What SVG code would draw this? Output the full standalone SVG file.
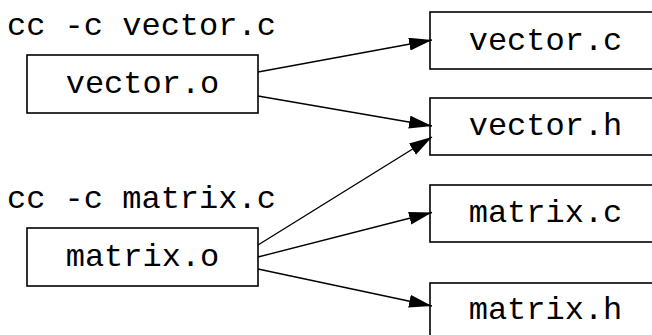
<svg xmlns="http://www.w3.org/2000/svg" width="652" height="335" viewBox="0 0 652 335">
<style>
.box{fill:#fff;stroke:#000;stroke-width:1.6}
.t{font-family:"Liberation Mono","Courier New",monospace;font-size:32px;fill:#000}
.m{text-anchor:middle}
.e{stroke:#000;stroke-width:1.4;fill:none;marker-end:url(#ah)}
</style>
<defs>
<marker id="ah" markerUnits="userSpaceOnUse" markerWidth="24" markerHeight="14" refX="23" refY="6.5" orient="auto">
<path d="M0,0 L23,6.5 L0,13 Z" fill="#000"/>
</marker>
</defs>
<rect width="652" height="335" fill="#fff"/>
<g id="label-vector"><text class="t" x="7" y="35">cc -c vector.c</text></g>
<g id="label-matrix"><text class="t" x="7" y="207.5">cc -c matrix.c</text></g>
<g id="vector_o"><rect class="box" x="27" y="55" width="231" height="58"/><text class="t m" x="142.5" y="93">vector.o</text></g>
<g id="matrix_o"><rect class="box" x="27" y="228" width="231" height="58"/><text class="t m" x="142.5" y="266">matrix.o</text></g>
<g id="vector_c"><rect class="box" x="430" y="12" width="231" height="57"/><text class="t m" x="545.5" y="49.5">vector.c</text></g>
<g id="vector_h"><rect class="box" x="430" y="98" width="231" height="57"/><text class="t m" x="545.5" y="135">vector.h</text></g>
<g id="matrix_c"><rect class="box" x="430" y="185" width="231" height="57"/><text class="t m" x="545.5" y="222">matrix.c</text></g>
<g id="matrix_h"><rect class="box" x="430" y="283" width="231" height="57"/><text class="t m" x="545.5" y="318.5">matrix.h</text></g>
<g id="connectors">
<line class="e" x1="258" y1="72" x2="432" y2="40"/>
<line class="e" x1="258" y1="96" x2="432" y2="126"/>
<line class="e" x1="258" y1="245" x2="432" y2="137"/>
<line class="e" x1="258" y1="257" x2="432" y2="212.5"/>
<line class="e" x1="258" y1="269" x2="432" y2="306"/>
</g>
</svg>
